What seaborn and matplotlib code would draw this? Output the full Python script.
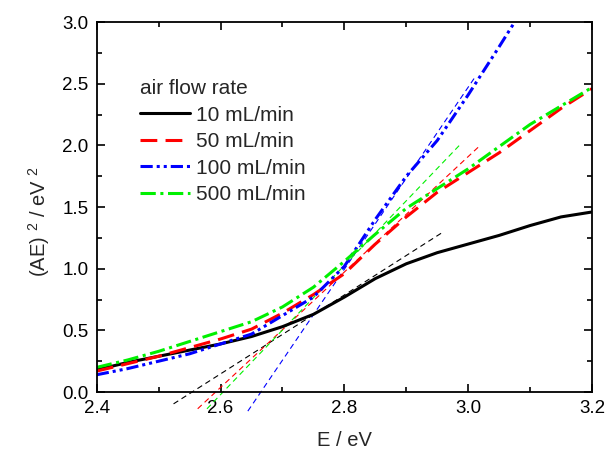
import numpy as np
import pandas as pd
import matplotlib
matplotlib.use("Agg")
import matplotlib.pyplot as plt
import seaborn as sns
from matplotlib.ticker import MultipleLocator, FormatStrFormatter

# ---- data ----
energy = [2.40, 2.45, 2.50, 2.55, 2.60, 2.65, 2.70, 2.75, 2.80, 2.85,
          2.90, 2.95, 3.00, 3.05, 3.10, 3.15, 3.20]
y_10 = [0.18, 0.24, 0.29, 0.34, 0.39, 0.45, 0.53, 0.63, 0.77, 0.92,
        1.04, 1.13, 1.20, 1.27, 1.35, 1.42, 1.46]
y_50 = [0.17, 0.23, 0.29, 0.36, 0.43, 0.51, 0.64, 0.79, 0.96, 1.20,
        1.42, 1.62, 1.78, 1.94, 2.12, 2.30, 2.46]
y_100 = [0.14, 0.19, 0.25, 0.31, 0.39, 0.47, 0.62, 0.77, 1.02, 1.40,
         1.75, 2.04, 2.41, 2.80, 3.20]
y_500 = [0.20, 0.26, 0.33, 0.41, 0.49, 0.57, 0.69, 0.85, 1.06, 1.28,
         1.49, 1.65, 1.81, 1.99, 2.17, 2.32, 2.47]

labels = ["10 mL/min", "50 mL/min", "100 mL/min", "500 mL/min"]
series = [y_10, y_50, y_100, y_500]

# tangent fits: band-gap intercept, slope, start/end energy
fit_eg = [2.554, 2.592, 2.665, 2.604]
fit_slope = [3.2, 4.68, 7.38, 5.24]
fit_start = [2.524, 2.563, 2.644, 2.578]
fit_end = [2.961, 3.016, 3.013, 2.988]

colors = ["black", "#ff0000", "#0000ff", "#00f000"]
styles = ["-", (0, (5.5, 2.7)), (0, (4, 1.3, 1, 1.3, 1, 1.3)), (0, (5, 1.5, 1, 1.5))]

sns.set_theme(style="ticks")
plt.rcParams["font.family"] = ["Liberation Sans", "DejaVu Sans"]
plt.rcParams["mathtext.fontset"] = "custom"
plt.rcParams["mathtext.rm"] = "Liberation Sans"
plt.rcParams["mathtext.it"] = "Liberation Sans"

fig = plt.figure(figsize=(6.05, 4.51), dpi=100)
ax = fig.add_axes([0.160, 0.1308, 0.8185, 0.8202])

handles = []
for lab, ys, c, ls in zip(labels, series, colors, styles):
    df = pd.DataFrame({"E": energy[:len(ys)], "y": ys})
    sns.lineplot(data=df, x="E", y="y", ax=ax, color=c, linewidth=2.2,
                 linestyle=ls, label=lab, legend=False)
    handles.append(ax.lines[-1])

for eg, k, s, e, c in zip(fit_eg, fit_slope, fit_start, fit_end, colors):
    xs = np.array([s, e])
    ax.plot(xs, k * (xs - eg), color=c, linewidth=0.8,
            linestyle=(0, (5, 3.5)), clip_on=False, zorder=1)

ax.set_xlim(2.4, 3.2)
ax.set_ylim(0, 3.0)
ax.xaxis.set_major_locator(MultipleLocator(0.2))
ax.xaxis.set_minor_locator(MultipleLocator(0.1))
ax.yaxis.set_major_locator(MultipleLocator(0.5))
ax.yaxis.set_minor_locator(MultipleLocator(0.25))
ax.xaxis.set_major_formatter(FormatStrFormatter("%.1f"))
ax.yaxis.set_major_formatter(FormatStrFormatter("%.1f"))
ax.tick_params(which="both", direction="in", top=True, right=True,
               labelsize=13.5, width=1.2, colors="black", pad=6)
ax.tick_params(which="major", length=6)
ax.tick_params(which="minor", length=3.5)
for sp in ax.spines.values():
    sp.set_linewidth(1.3)
    sp.set_color("black")

ax.set_xlabel("E / eV", fontsize=14.5)
ax.xaxis.set_label_coords(0.5, -0.105)
ax.set_ylabel(r"(AE) $^{2}$ / eV $^{2}$", fontsize=14.5)
ax.yaxis.set_label_coords(-0.091, 0.46)

leg = ax.legend(handles=handles, labels=labels, title="air flow rate",
                loc="upper left", bbox_to_anchor=(0.087, 0.846),
                frameon=False, fontsize=15, title_fontsize=15,
                handlelength=2.4, handletextpad=0.3, labelspacing=0.36,
                borderpad=0, borderaxespad=0, alignment="left")

fig.savefig("out.png", dpi=100)
